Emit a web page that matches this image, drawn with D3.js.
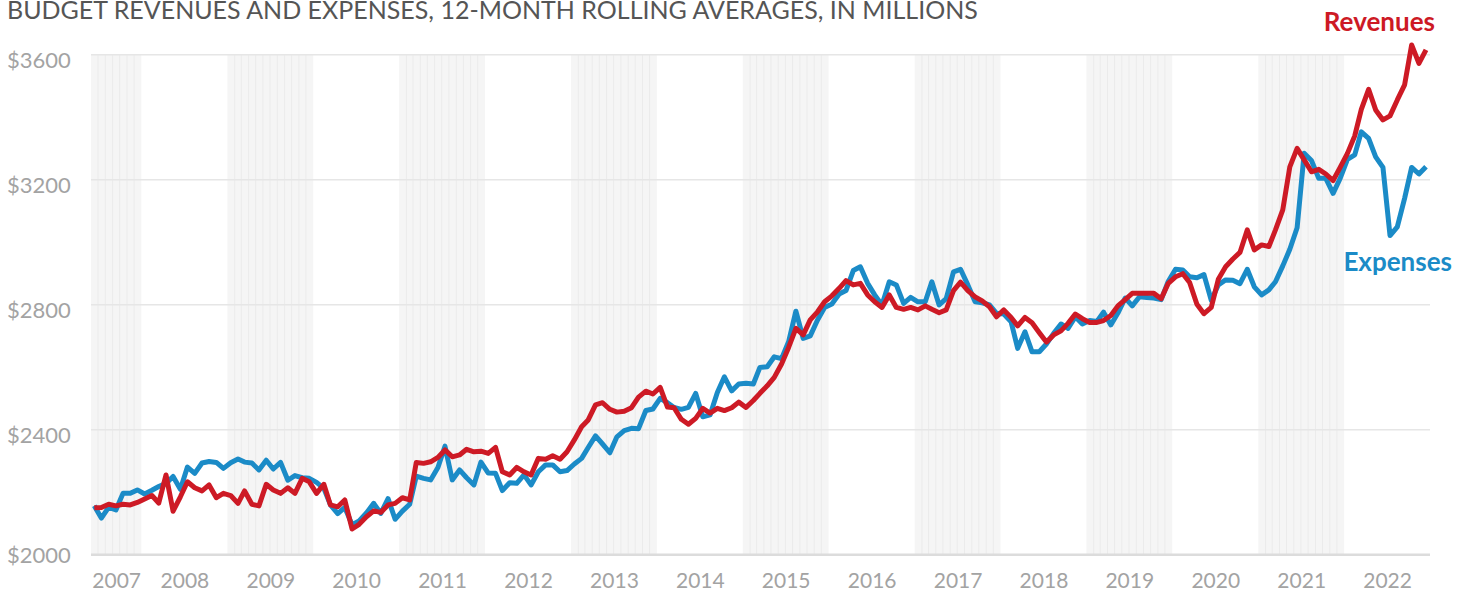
<!DOCTYPE html>
<html lang="en">
<head>
<meta charset="UTF-8">
<title>Budget revenues and expenses</title>
<script src="https://d3js.org/d3.v7.min.js"></script>
<style>
  body { margin: 0; background: #fff; }
  text { font-family: Lato, "Open Sans", sans-serif; }
</style>
</head>
<body>
<div id="chart"></div>
<script>
const width = 1468;
const height = 596;
const plotLeft = 91, plotRight = 1430, plotTop = 54.3, plotBottom = 554.3;

// monthly 12-month rolling averages, June 2007 .. December 2022 (millions)
const firstMonth = new Date(2007, 5, 15);
const revenues = [
  2149, 2150, 2160, 2155, 2160, 2158, 2166,
  2177, 2188, 2164, 2254, 2138, 2184, 2232, 2213, 2203, 2222, 2181, 2195,
  2188, 2163, 2203, 2160, 2155, 2224, 2206, 2195, 2213, 2195, 2243, 2232,
  2195, 2224, 2158, 2152, 2174, 2081, 2096, 2120, 2139, 2134, 2158, 2163,
  2181, 2174, 2294, 2291, 2296, 2310, 2334, 2312, 2318, 2336, 2328, 2330,
  2323, 2342, 2264, 2254, 2278, 2264, 2254, 2307, 2304, 2315, 2304, 2328,
  2366, 2408, 2430, 2478, 2485, 2464, 2455, 2458, 2469, 2503, 2522, 2513,
  2534, 2471, 2469, 2432, 2416, 2435, 2467, 2452, 2467, 2460, 2469, 2487,
  2470, 2492, 2515, 2539, 2566, 2609, 2662, 2723, 2702, 2750, 2776, 2808,
  2827, 2851, 2876, 2862, 2867, 2830, 2808, 2790, 2830, 2790, 2784, 2790,
  2782, 2795, 2784, 2773, 2782, 2844, 2871, 2844, 2824, 2811, 2792, 2760,
  2782, 2758, 2731, 2758, 2741, 2709, 2679, 2702, 2715, 2739, 2769, 2754,
  2742, 2742, 2748, 2764, 2795, 2815, 2835, 2835, 2835, 2835, 2818, 2867,
  2888, 2898, 2870, 2800, 2770, 2790, 2880, 2920, 2945, 2966, 3038, 2974,
  2990, 2985, 3038, 3102, 3240, 3299, 3262, 3224, 3232, 3217, 3196, 3238,
  3283, 3339, 3424, 3488, 3422, 3390, 3403, 3454, 3502, 3630, 3571, 3614
];
const expenses = [
  2155, 2116, 2150, 2142, 2195, 2195, 2206,
  2193, 2205, 2217, 2227, 2249, 2208, 2279, 2259, 2292, 2297, 2294, 2275,
  2293, 2305, 2295, 2292, 2270, 2301, 2273, 2294, 2237, 2252, 2245, 2243,
  2230, 2211, 2158, 2130, 2150, 2095, 2107, 2132, 2163, 2131, 2178, 2112,
  2138, 2160, 2250, 2243, 2238, 2278, 2346, 2238, 2270, 2245, 2222, 2295,
  2260, 2259, 2204, 2229, 2227, 2254, 2222, 2264, 2286, 2286, 2264, 2268,
  2289, 2307, 2342, 2379, 2353, 2325, 2376, 2396, 2403, 2402, 2460, 2465,
  2499, 2485, 2470, 2464, 2470, 2515, 2440, 2446, 2518, 2568, 2523, 2545,
  2547, 2545, 2598, 2600, 2632, 2626, 2680, 2778, 2691, 2699, 2750, 2790,
  2801, 2833, 2844, 2908, 2920, 2867, 2830, 2798, 2872, 2862, 2803, 2822,
  2808, 2808, 2872, 2798, 2818, 2904, 2912, 2862, 2808, 2805, 2798, 2771,
  2769, 2744, 2659, 2712, 2648, 2648, 2673, 2707, 2737, 2723, 2760, 2737,
  2748, 2745, 2775, 2734, 2772, 2820, 2795, 2824, 2822, 2820, 2815, 2873,
  2912, 2910, 2888, 2885, 2895, 2813, 2862, 2878, 2877, 2866, 2912, 2856,
  2830, 2846, 2872, 2923, 2976, 3045, 3283, 3260, 3203, 3203, 3155, 3203,
  3264, 3278, 3352, 3331, 3272, 3238, 3020, 3048, 3139, 3238, 3217, 3240
];
const years = d3.range(2007, 2023);
const shadedYears = years.filter(y => y % 2 === 1);
const yTicks = [2000, 2400, 2800, 3200, 3600];

const red = "#cd1a25";
const blue = "#1b8bc7";

const domainStart = new Date(2007, 5, 1);
const domainEnd = new Date(2023, 0, 1);

const x = d3.scaleTime()
    .domain([domainStart, domainEnd])
    .range([plotLeft, plotRight]);

const y = d3.scaleLinear()
    .domain([2000, 3600])
    .range([plotBottom, plotTop]);

const svg = d3.select("#chart")
    .append("svg")
    .attr("width", width)
    .attr("height", height);

// alternating year shading
const bandStart = yr => new Date(Math.max(new Date(yr, 0, 1), domainStart));
svg.append("g")
    .selectAll("rect")
    .data(shadedYears)
    .join("rect")
    .attr("x", d => x(bandStart(d)))
    .attr("y", plotTop)
    .attr("width", d => x(new Date(d + 1, 0, 1)) - x(bandStart(d)))
    .attr("height", plotBottom - plotTop)
    .attr("fill", "#f5f5f5");

// thin month lines inside the shaded years
const monthLines = shadedYears.flatMap(yr =>
    d3.timeMonth.range(d3.timeMonth.offset(bandStart(yr), 1), new Date(yr + 1, 0, 1)));
svg.append("g")
    .selectAll("line")
    .data(monthLines)
    .join("line")
    .attr("x1", d => x(d))
    .attr("x2", d => x(d))
    .attr("y1", plotTop)
    .attr("y2", plotBottom)
    .attr("stroke", "#ebebeb")
    .attr("stroke-width", 1);

// horizontal grid
svg.append("g")
    .attr("transform", `translate(${plotLeft},0)`)
    .call(d3.axisLeft(y).tickValues(yTicks).tickSize(-(plotRight - plotLeft)).tickFormat(""))
    .call(g => g.select(".domain").remove())
    .call(g => g.selectAll(".tick line")
        .attr("stroke", d => d === 2000 ? "#dcdcdc" : "#e6e6e6")
        .attr("stroke-width", d => d === 2000 ? 2.5 : 1.5));

// y labels
svg.append("g")
    .attr("transform", "translate(7,0)")
    .call(d3.axisRight(y).tickValues(yTicks).tickSize(0).tickPadding(0).tickFormat(d => "$" + d))
    .call(g => g.select(".domain").remove())
    .call(g => g.selectAll("text")
        .attr("dy", d => d === 2000 ? "0.36em" : "0.58em")
        .attr("fill", "#a3a3a3")
        .style("font-family", "Lato, sans-serif")
        .style("font-size", "22px"));

// year labels centred in each year
const yearMid = yr => new Date((+bandStart(yr) + +new Date(yr + 1, 0, 1)) / 2);
svg.append("g")
    .attr("transform", `translate(0,${plotBottom})`)
    .call(d3.axisBottom(x).tickValues(years.map(yearMid)).tickSize(0).tickPadding(19).tickFormat(d3.timeFormat("%Y")))
    .call(g => g.select(".domain").remove())
    .call(g => g.selectAll("text")
        .attr("fill", "#a3a3a3")
        .style("font-family", "Lato, sans-serif")
        .style("font-size", "21px"));

// lines
const monthDate = i => d3.timeMonth.offset(firstMonth, i);
const line = d3.line()
    .x((d, i) => x(monthDate(i)))
    .y(d => y(d));

svg.append("path")
    .datum(expenses)
    .attr("d", line)
    .attr("fill", "none")
    .attr("stroke", blue)
    .attr("stroke-width", 5)
    .attr("stroke-linejoin", "round");

svg.append("path")
    .datum(revenues)
    .attr("d", line)
    .attr("fill", "none")
    .attr("stroke", red)
    .attr("stroke-width", 5)
    .attr("stroke-linejoin", "round");

// series labels
svg.append("text")
    .attr("x", 1435)
    .attr("y", 31)
    .attr("text-anchor", "end")
    .attr("fill", red)
    .style("font-size", "26px")
    .style("font-weight", 700)
    .text("Revenues");

svg.append("text")
    .attr("x", 1452)
    .attr("y", 271)
    .attr("text-anchor", "end")
    .attr("fill", blue)
    .style("font-size", "26px")
    .style("font-weight", 700)
    .text("Expenses");

// title
svg.append("text")
    .attr("x", 7)
    .attr("y", 19)
    .attr("fill", "#555")
    .style("font-size", "25px")
    .text("BUDGET REVENUES AND EXPENSES, 12-MONTH ROLLING AVERAGES, IN MILLIONS");
</script>
</body>
</html>
